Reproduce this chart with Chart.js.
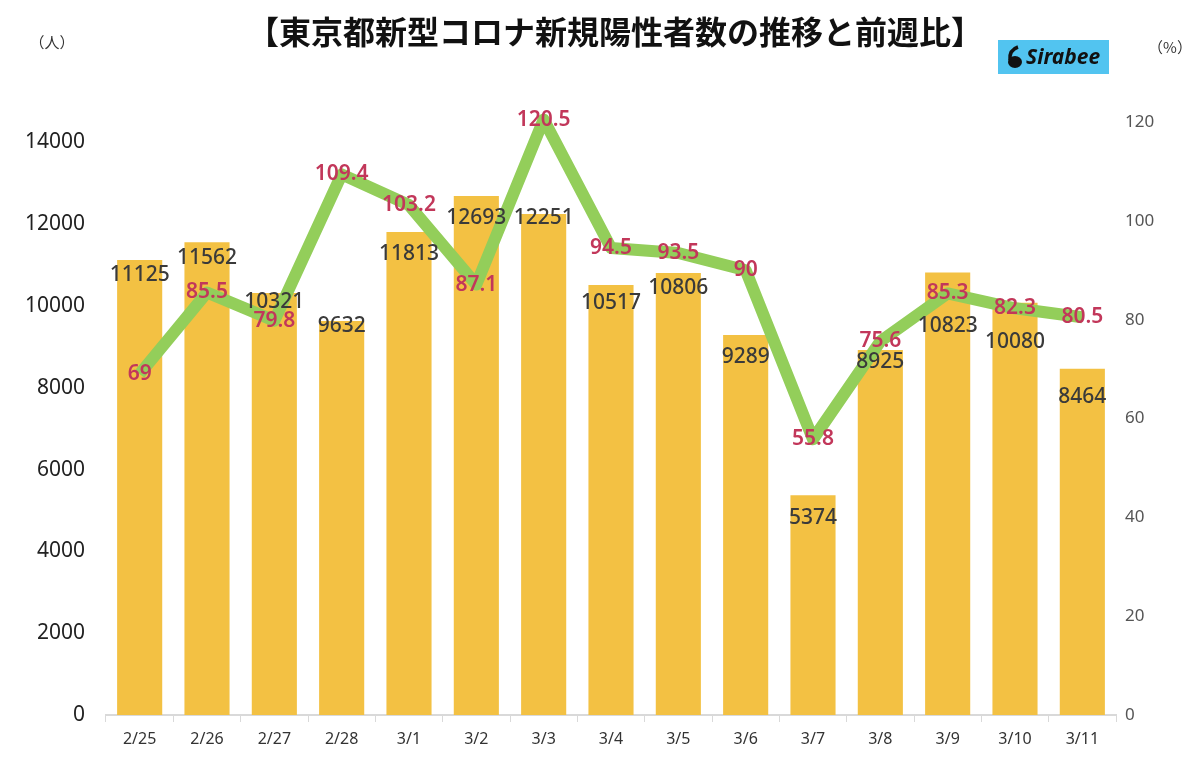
<!DOCTYPE html>
<html lang="ja">
<head>
<meta charset="utf-8">
<title>東京都新型コロナ新規陽性者数の推移と前週比</title>
<script src="https://cdn.jsdelivr.net/npm/chart.js@4/dist/chart.umd.min.js"></script>
<style>
  html, body { margin: 0; padding: 0; background: #fff; }
  #wrap { width: 1200px; height: 757px; }
</style>
</head>
<body>
<div id="wrap"><canvas id="grafico" width="1200" height="757"></canvas></div>
<script>
const fechas = ['2/25', '2/26', '2/27', '2/28', '3/1', '3/2', '3/3', '3/4', '3/5', '3/6', '3/7', '3/8', '3/9', '3/10', '3/11'];
const positivos = [11125, 11562, 10321, 9632, 11813, 12693, 12251, 10517, 10806, 9289, 5374, 8925, 10823, 10080, 8464];
const zenshuHi = [69, 85.5, 79.8, 109.4, 103.2, 87.1, 120.5, 94.5, 93.5, 90, 55.8, 75.6, 85.3, 82.3, 80.5];
const ticksIzq = [0, 2000, 4000, 6000, 8000, 10000, 12000, 14000];
const ticksDer = [0, 20, 40, 60, 80, 100, 120];

// desplazamiento vertical (px) de cada etiqueta de barra respecto al borde superior
const ajusteEtiqueta = [15, 16, 9, 5, 22, 22, 4, 18, 15, 22, 23, 12, 54, 39, 28];

const titulo = '【東京都新型コロナ新規陽性者数の推移と前週比】';

const AMARILLO = '#F3C143';
const VERDE = '#93CE5A';
const CARMIN = '#C2375A';

const etiquetas = {
  id: 'etiquetas',
  afterDatasetsDraw(chart) {
    const ctx = chart.ctx;
    ctx.save();
    ctx.textAlign = 'center';
    ctx.textBaseline = 'middle';
    ctx.font = '500 21px "Noto Sans", sans-serif';
    ctx.fillStyle = '#3a3a3a';
    chart.getDatasetMeta(1).data.forEach((el, i) => {
      ctx.fillText(String(positivos[i]), el.x, el.y + ajusteEtiqueta[i]);
    });
    ctx.font = '600 21px "Noto Sans", sans-serif';
    ctx.fillStyle = CARMIN;
    chart.getDatasetMeta(0).data.forEach((el, i) => {
      ctx.fillText(String(zenshuHi[i]), el.x, el.y);
    });
    ctx.restore();
  }
};

const encabezado = {
  id: 'encabezado',
  afterDraw(chart) {
    const ctx = chart.ctx;
    ctx.save();
    ctx.textBaseline = 'middle';
    ctx.textAlign = 'center';
    ctx.fillStyle = '#111';
    ctx.font = 'bold 32px "Noto Sans CJK JP", sans-serif';
    ctx.fillText(titulo, 615, 32);

    ctx.font = '15px "Noto Sans CJK JP", sans-serif';
    ctx.fillStyle = '#333';
    ctx.fillText('（人）', 52, 42);
    ctx.fillText('（%）', 1170, 47);

    // logo Sirabee
    ctx.fillStyle = '#52C4F0';
    ctx.fillRect(998, 40, 111, 34);
    ctx.fillStyle = '#111';
    ctx.beginPath();
    ctx.ellipse(1015, 62, 7, 6, 0, 0, Math.PI * 2);
    ctx.fill();
    ctx.lineWidth = 3.5;
    ctx.strokeStyle = '#111';
    ctx.beginPath();
    ctx.moveTo(1010, 60);
    ctx.quadraticCurveTo(1009, 50, 1018, 47);
    ctx.stroke();
    ctx.textAlign = 'left';
    ctx.font = 'italic bold 21px "Noto Sans", sans-serif';
    ctx.fillText('Sirabee', 1026, 58);
    ctx.restore();
  }
};

new Chart(document.getElementById('grafico'), {
  type: 'bar',
  data: {
    labels: fechas,
    datasets: [
      {
        type: 'line',
        label: '前週比',
        data: zenshuHi,
        yAxisID: 'y1',
        borderColor: VERDE,
        borderWidth: 12,
        borderJoinStyle: 'round',
        pointRadius: 0,
        tension: 0,
        clip: false,
        order: 0
      },
      {
        type: 'bar',
        label: '新規陽性者数',
        data: positivos,
        yAxisID: 'y',
        backgroundColor: AMARILLO,
        barPercentage: 0.67,
        categoryPercentage: 1,
        order: 1
      }
    ]
  },
  options: {
    responsive: false,
    devicePixelRatio: 1,
    animation: false,
    layout: { padding: { top: 122, left: 0, right: 0, bottom: 0 } },
    plugins: {
      legend: { display: false },
      title: { display: false },
      tooltip: { enabled: false }
    },
    scales: {
      x: {
        afterFit(s) { s.height = 42; },
        grid: {
          display: true,
          drawOnChartArea: false,
          drawTicks: true,
          tickLength: 7,
          color: '#d9d9d9',
          offset: true
        },
        border: { display: true, color: '#d9d9d9', width: 2 },
        ticks: {
          color: '#333',
          padding: 8,
          font: { family: '"Noto Sans", sans-serif', size: 16 }
        }
      },
      y: {
        position: 'left',
        min: 0,
        max: 14500,
        afterFit(s) { s.width = 106; },
        afterBuildTicks(s) { s.ticks = ticksIzq.map(v => ({ value: v })); },
        grid: { display: false, drawTicks: false },
        border: { display: false },
        ticks: {
          color: '#222',
          padding: 21,
          callback: v => String(v),
          font: { family: '"Noto Sans", sans-serif', size: 21 }
        }
      },
      y1: {
        position: 'right',
        min: 0,
        max: 120,
        afterFit(s) { s.width = 84; },
        afterBuildTicks(s) { s.ticks = ticksDer.map(v => ({ value: v })); },
        grid: { display: false, drawTicks: false },
        border: { display: false },
        ticks: {
          color: '#555',
          padding: 9,
          callback: v => String(v),
          font: { family: '"Noto Sans", sans-serif', size: 17 }
        }
      }
    }
  },
  plugins: [etiquetas, encabezado]
});
</script>
</body>
</html>
